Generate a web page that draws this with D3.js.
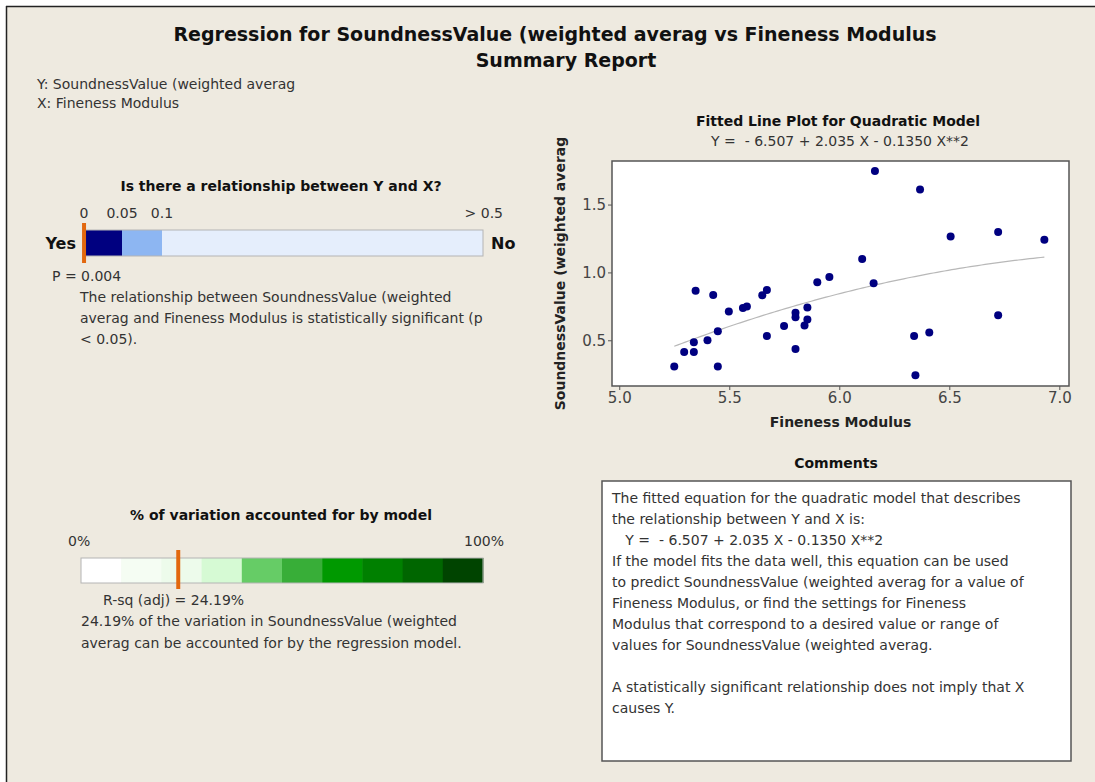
<!DOCTYPE html>
<html>
<head>
<meta charset="utf-8">
<script src="https://cdn.jsdelivr.net/npm/d3@7"></script>
<style>
  html, body { margin: 0; padding: 0; background: #ffffff; }
  svg { display: block; }
</style>
</head>
<body>
<div id="chart"></div>
<script>
// ---------------- DATA ----------------
const fineness = [5.250, 5.295, 5.339, 5.339, 5.347, 5.401, 5.427, 5.448, 5.448, 5.498,
                  5.562, 5.580, 5.650, 5.671, 5.671, 5.749, 5.801, 5.801, 5.801, 5.842,
                  5.855, 5.855, 5.900, 5.955, 6.104, 6.156, 6.162, 6.340, 6.346, 6.367,
                  6.409, 6.506, 6.722, 6.722, 6.932];
const soundness = [0.307, 0.414, 0.414, 0.485, 0.865, 0.500, 0.833, 0.567, 0.307, 0.712,
                   0.737, 0.749, 0.831, 0.870, 0.532, 0.606, 0.702, 0.670, 0.436, 0.609,
                   0.742, 0.653, 0.927, 0.967, 1.098, 0.920, 1.747, 0.532, 0.243, 1.611,
                   0.557, 1.265, 1.298, 0.685, 1.241];
const coefficients = [-6.507, 2.035, -0.1350];
const xTickValues = [5.0, 5.5, 6.0, 6.5, 7.0];
const yTickValues = [0.5, 1.0, 1.5];

const pBreaks = [0, 0.05, 0.1, 0.5];
const pBreakLabels = ["0", "0.05", "0.1", "> 0.5"];
const pColors = ["#000080", "#8db6f2", "#e5eefc"];
const pValue = 0.004;

const rsqBreaks = [0, 10, 20, 30, 40, 50, 60, 70, 80, 90, 100];
const rsqColors = ["#ffffff", "#f5fdf3", "#edfbeb", "#d6fad4", "#66cc66",
                   "#38ae38", "#009900", "#008000", "#006600", "#004400"];
const rsqAdj = 24.19;

const titleLines = ["Regression for SoundnessValue (weighted averag vs Fineness Modulus", "Summary Report"];
const varLines = ["Y: SoundnessValue (weighted averag", "X: Fineness Modulus"];
const relText = ["The relationship between SoundnessValue (weighted",
                 "averag and Fineness Modulus is statistically significant (p",
                 "< 0.05)."];
const rsqText = ["24.19% of the variation in SoundnessValue (weighted",
                 "averag can be accounted for by the regression model."];
const commentLines = [
  "The fitted equation for the quadratic model that describes",
  "the relationship between Y and X is:",
  "   Y =  - 6.507 + 2.035 X - 0.1350 X**2",
  "If the model fits the data well, this equation can be used",
  "to predict SoundnessValue (weighted averag for a value of",
  "Fineness Modulus, or find the settings for Fineness",
  "Modulus that correspond to a desired value or range of",
  "values for SoundnessValue (weighted averag.",
  "",
  "A statistically significant relationship does not imply that X",
  "causes Y."
];

// ---------------- DRAW ----------------
const W = 1095, H = 782;
const FONT = "'DejaVu Sans', Verdana, sans-serif";
const TXT = "#333333";
const BODY = 14;

const svg = d3.select("#chart").append("svg")
  .attr("width", W).attr("height", H)
  .style("font-family", FONT);

// background panel
svg.append("rect").attr("x", 0).attr("y", 0).attr("width", W).attr("height", H).attr("fill", "#ffffff");
svg.append("rect").attr("x", 6).attr("y", 6).attr("width", W - 6).attr("height", H - 6).attr("fill", "#eeeae0");
svg.append("line").attr("x1", 6.5).attr("y1", 6).attr("x2", 6.5).attr("y2", H).attr("stroke", "#222").attr("stroke-width", 1.5);
svg.append("line").attr("x1", 6).attr("y1", 6.5).attr("x2", W).attr("y2", 6.5).attr("stroke", "#222").attr("stroke-width", 1.5);

// Titles
svg.selectAll("text.title").data(titleLines).enter().append("text")
  .attr("class", "title")
  .attr("x", (d, i) => i === 0 ? 555 : 566).attr("y", (d, i) => 41 + i * 26)
  .attr("text-anchor", "middle")
  .attr("font-size", 19).attr("font-weight", "bold").attr("fill", "#111")
  .text(d => d);

svg.selectAll("text.vars").data(varLines).enter().append("text")
  .attr("class", "vars")
  .attr("x", 37).attr("y", (d, i) => 89 + i * 19)
  .attr("font-size", BODY).attr("fill", TXT)
  .text(d => d);

// ---------- Panel 1: relationship ----------
svg.append("text").attr("x", 281).attr("y", 191)
  .attr("text-anchor", "middle").attr("font-size", 14).attr("font-weight", "bold").attr("fill", "#111")
  .text("Is there a relationship between Y and X?");

const pScale = d3.scaleLinear().domain(pBreaks).range([84, 122, 162, 483]);
const pSegs = d3.range(pColors.length).map(i => ({a: pBreaks[i], b: pBreaks[i + 1], c: pColors[i]}));
svg.append("g").selectAll("rect").data(pSegs).enter().append("rect")
  .attr("x", d => pScale(d.a)).attr("y", 230)
  .attr("width", d => pScale(d.b) - pScale(d.a)).attr("height", 26)
  .attr("fill", d => d.c);
svg.append("rect").attr("x", pScale(0)).attr("y", 230)
  .attr("width", pScale(0.5) - pScale(0)).attr("height", 26)
  .attr("fill", "none").attr("stroke", "#b4b4b4").attr("stroke-width", 1);

svg.append("g").selectAll("text").data(pBreaks).enter().append("text")
  .attr("x", (d, i) => i === pBreaks.length - 1 ? 503 : pScale(d))
  .attr("y", 218)
  .attr("text-anchor", (d, i) => i === pBreaks.length - 1 ? "end" : "middle")
  .attr("font-size", BODY).attr("fill", TXT)
  .text((d, i) => pBreakLabels[i]);

svg.append("line")
  .attr("x1", pScale(pValue) - 3).attr("x2", pScale(pValue) - 3)
  .attr("y1", 223).attr("y2", 263)
  .attr("stroke", "#e2680e").attr("stroke-width", 4);

svg.append("text").attr("x", 76).attr("y", 249).attr("text-anchor", "end")
  .attr("font-size", 16).attr("font-weight", "bold").attr("fill", "#111").text("Yes");
svg.append("text").attr("x", 491).attr("y", 249)
  .attr("font-size", 16).attr("font-weight", "bold").attr("fill", "#111").text("No");

svg.append("text").attr("x", 52).attr("y", 281)
  .attr("font-size", BODY).attr("fill", TXT).text("P = " + pValue.toFixed(3));
svg.selectAll("text.rel").data(relText).enter().append("text")
  .attr("class", "rel").attr("x", 80).attr("y", (d, i) => 302 + i * 21)
  .attr("font-size", BODY).attr("fill", TXT).text(d => d);

// ---------- Panel 2: R-sq ----------
svg.append("text").attr("x", 281).attr("y", 520)
  .attr("text-anchor", "middle").attr("font-size", 14).attr("font-weight", "bold").attr("fill", "#111")
  .text("% of variation accounted for by model");
svg.append("text").attr("x", 68).attr("y", 546).attr("font-size", BODY).attr("fill", TXT).text("0%");
svg.append("text").attr("x", 504).attr("y", 546).attr("text-anchor", "end").attr("font-size", BODY).attr("fill", TXT).text("100%");

const rScale = d3.scaleLinear().domain([0, 100]).range([81, 483]);
const rSegs = d3.range(rsqColors.length).map(i => ({a: rsqBreaks[i], b: rsqBreaks[i + 1], c: rsqColors[i]}));
svg.append("g").selectAll("rect").data(rSegs).enter().append("rect")
  .attr("x", d => rScale(d.a)).attr("y", 558)
  .attr("width", d => rScale(d.b) - rScale(d.a) + 0.5).attr("height", 25)
  .attr("fill", d => d.c);
svg.append("rect").attr("x", rScale(0)).attr("y", 558)
  .attr("width", rScale(100) - rScale(0)).attr("height", 25)
  .attr("fill", "none").attr("stroke", "#b4b4b4").attr("stroke-width", 1);
svg.append("line")
  .attr("x1", rScale(rsqAdj)).attr("x2", rScale(rsqAdj))
  .attr("y1", 550).attr("y2", 589)
  .attr("stroke", "#e2680e").attr("stroke-width", 4);

svg.append("text").attr("x", 103).attr("y", 605)
  .attr("font-size", BODY).attr("fill", TXT).text("R-sq (adj) = " + rsqAdj.toFixed(2) + "%");
svg.selectAll("text.rsq").data(rsqText).enter().append("text")
  .attr("class", "rsq").attr("x", 81).attr("y", (d, i) => 626 + i * 22)
  .attr("font-size", BODY).attr("fill", TXT).text(d => d);

// ---------- Scatter plot ----------
const plot = {left: 612, right: 1069, top: 161, bottom: 386};
const x = d3.scaleLinear().domain([4.967, 7.044]).range([plot.left, plot.right]);
const y = d3.scaleLinear().domain([0.163, 1.821]).range([plot.bottom, plot.top]);

svg.append("text").attr("x", 838).attr("y", 126).attr("text-anchor", "middle")
  .attr("font-size", 14).attr("font-weight", "bold").attr("fill", "#111")
  .text("Fitted Line Plot for Quadratic Model");
svg.append("text").attr("x", 840).attr("y", 146).attr("text-anchor", "middle")
  .attr("font-size", 14).attr("fill", TXT).attr("xml:space", "preserve").style("white-space", "pre")
  .text("Y =  - " + Math.abs(coefficients[0]).toFixed(3) + " + " + coefficients[1].toFixed(3) + " X - " + Math.abs(coefficients[2]).toFixed(4) + " X**2");

svg.append("rect").attr("x", plot.left).attr("y", plot.top)
  .attr("width", plot.right - plot.left).attr("height", plot.bottom - plot.top)
  .attr("fill", "#ffffff").attr("stroke", "#555").attr("stroke-width", 1.5);

const xAxis = svg.append("g").attr("transform", `translate(0,${plot.bottom})`)
  .call(d3.axisBottom(x).tickValues(xTickValues).tickSize(4).tickPadding(2).tickFormat(d3.format(".1f")));
const yAxis = svg.append("g").attr("transform", `translate(${plot.left},0)`)
  .call(d3.axisLeft(y).tickValues(yTickValues).tickSize(4).tickPadding(2).tickFormat(d3.format(".1f")));
[xAxis, yAxis].forEach(g => {
  g.select(".domain").remove();
  g.selectAll(".tick line").attr("stroke", "#555");
  g.selectAll(".tick text").attr("font-size", 15).attr("fill", "#444").style("font-family", FONT);
});

// fitted curve
const xMin = d3.min(fineness), xMax = d3.max(fineness);
const curveXs = d3.range(0, 101).map(i => xMin + (xMax - xMin) * i / 100);
const poly = v => coefficients[0] + coefficients[1] * v + coefficients[2] * v * v;
svg.append("path").datum(curveXs)
  .attr("d", d3.line().x(d => x(d)).y(d => y(poly(d))))
  .attr("fill", "none").attr("stroke", "#b8b8b8").attr("stroke-width", 1.2);

svg.append("g").selectAll("circle").data(fineness).enter().append("circle")
  .attr("cx", d => x(d)).attr("cy", (d, i) => y(soundness[i]))
  .attr("r", 4).attr("fill", "#000080");

svg.append("text").attr("x", (plot.left + plot.right) / 2).attr("y", 427).attr("text-anchor", "middle")
  .attr("font-size", 14).attr("font-weight", "bold").attr("fill", "#222").text("Fineness Modulus");
svg.append("text")
  .attr("transform", `translate(565,${(plot.top + plot.bottom) / 2}) rotate(-90)`)
  .attr("text-anchor", "middle")
  .attr("font-size", 14).attr("font-weight", "bold").attr("fill", "#222")
  .text("SoundnessValue (weighted averag");

// ---------- Comments ----------
svg.append("text").attr("x", 836).attr("y", 468).attr("text-anchor", "middle")
  .attr("font-size", 14).attr("font-weight", "bold").attr("fill", "#111").text("Comments");
svg.append("rect").attr("x", 602).attr("y", 481).attr("width", 469).attr("height", 280)
  .attr("fill", "#ffffff").attr("stroke", "#555").attr("stroke-width", 1.5);
svg.selectAll("text.cm").data(commentLines).enter().append("text")
  .attr("class", "cm").attr("x", 612).attr("y", (d, i) => 503 + i * 21)
  .attr("font-size", BODY).attr("fill", TXT)
  .attr("xml:space", "preserve").style("white-space", "pre")
  .text(d => d);
</script>
</body>
</html>
